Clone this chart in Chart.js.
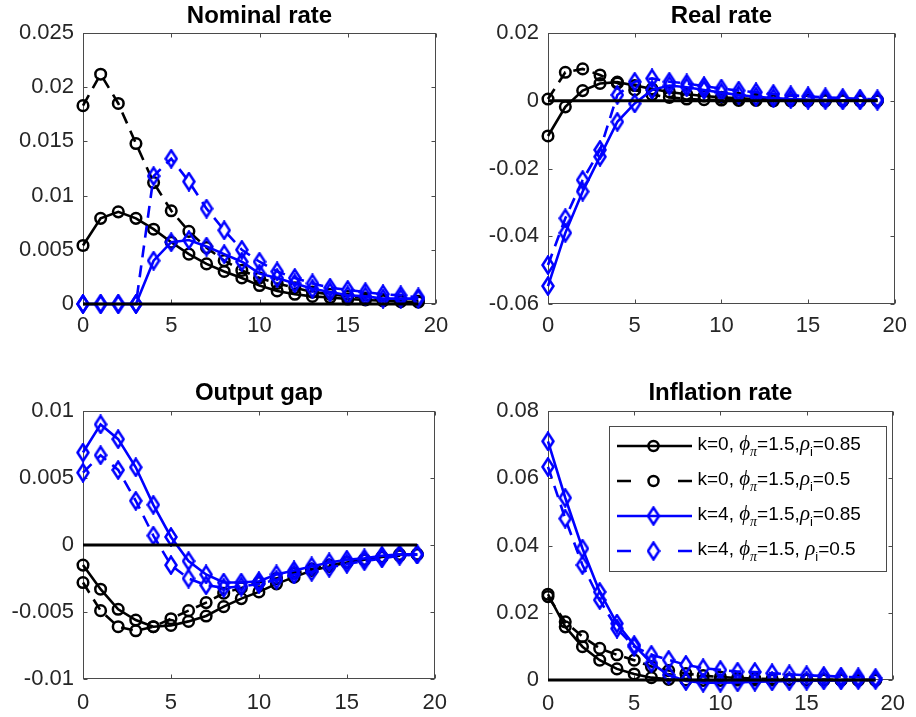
<!DOCTYPE html>
<html>
<head>
<meta charset="utf-8">
<script src="https://cdn.jsdelivr.net/npm/chart.js@4.4.0/dist/chart.umd.min.js"></script>
<style>
  html, body { margin: 0; padding: 0; background: #ffffff; }
  body { width: 916px; height: 717px; position: relative; overflow: hidden; }
  canvas { position: absolute; display: block; }
</style>
</head>
<body>
<canvas id="c1" width="458" height="350" style="left:0px;top:0px;width:458px;height:350px"></canvas>
<canvas id="c2" width="458" height="350" style="left:458px;top:0px;width:458px;height:350px"></canvas>
<canvas id="c3" width="458" height="347" style="left:0px;top:370px;width:458px;height:347px"></canvas>
<canvas id="c4" width="458" height="347" style="left:458px;top:370px;width:458px;height:347px"></canvas>
<script>
// ---------- DATA ----------
const periods = [0,1,2,3,4,5,6,7,8,9,10,11,12,13,14,15,16,17,18,19];
const xTicks = [0, 5, 10, 15, 20];
const xTickLabels = ['0', '5', '10', '15', '20'];

const seriesLabels = [
  'k=0, ϕ_π=1.5,ρ_i=0.85',
  'k=0, ϕ_π=1.5,ρ_i=0.5',
  'k=4, ϕ_π=1.5,ρ_i=0.85',
  'k=4, ϕ_π=1.5, ρ_i=0.5'
];

// Nominal rate
const nominal_k0_rho085 = [0.0054, 0.0079, 0.0085, 0.0079, 0.0069, 0.0057, 0.0046, 0.0037, 0.0030, 0.0024, 0.0017, 0.0012, 0.0009, 0.0007, 0.0006, 0.00046, 0.00037, 0.0003, 0.00022, 0.00018];
const nominal_k0_rho05  = [0.0183, 0.0212, 0.0185, 0.0148, 0.0112, 0.0086, 0.0067, 0.0052, 0.0040, 0.0031, 0.0024, 0.0019, 0.0015, 0.0011, 0.0009, 0.0007, 0.00055, 0.00042, 0.00033, 0.00026];
const nominal_k4_rho085 = [0, 0, 0, 0, 0.0040, 0.0057, 0.0059, 0.0053, 0.0046, 0.0039, 0.0028, 0.0024, 0.0019, 0.0014, 0.0011, 0.0008, 0.0007, 0.0005, 0.0005, 0.0005];
const nominal_k4_rho05  = [0, 0, 0, 0, 0.0118, 0.0134, 0.0113, 0.0088, 0.0068, 0.0050, 0.0039, 0.0030, 0.0024, 0.0019, 0.0015, 0.0013, 0.0011, 0.0009, 0.0008, 0.0006];
const nominalTicks = [0, 0.005, 0.01, 0.015, 0.02, 0.025];
const nominalTickLabels = ['0', '0.005', '0.01', '0.015', '0.02', '0.025'];

// Real rate
const real_k0_rho085 = [-0.0104, -0.0018, 0.0030, 0.0051, 0.0055, 0.0045, 0.0035, 0.0026, 0.0019, 0.0014, 0.0010, 0.0007, 0.0005, 0.0004, 0.0003, 0.0002, 0.0002, 0.0001, 0.0001, 0.0001];
const real_k0_rho05  = [0.0005, 0.0084, 0.0094, 0.0076, 0.0052, 0.0032, 0.0018, 0.0010, 0.0005, 0.0003, 0.0002, 0.0001, 0.0001, 0, 0, 0, 0, 0, 0, 0];
const real_k4_rho085 = [-0.0547, -0.0390, -0.0268, -0.0165, -0.0062, -0.0008, 0.0032, 0.0045, 0.0040, 0.0032, 0.0024, 0.0017, 0.0012, 0.0008, 0.0005, 0.0003, 0.0002, 0.0001, 0.0001, 0.0000];
const real_k4_rho05  = [-0.0485, -0.0347, -0.0234, -0.0145, 0.0017, 0.0056, 0.0066, 0.0056, 0.0051, 0.0043, 0.0036, 0.0030, 0.0025, 0.0020, 0.0016, 0.0013, 0.0010, 0.0008, 0.0006, 0.0004];
const realTicks = [-0.06, -0.04, -0.02, 0, 0.02];
const realTickLabels = ['-0.06', '-0.04', '-0.02', '0', '0.02'];

// Output gap
const output_k0_rho085 = [-0.0015, -0.0033, -0.0048, -0.0056, -0.0061, -0.0060, -0.0057, -0.0053, -0.0046, -0.0040, -0.0035, -0.0029, -0.0024, -0.0019, -0.0016, -0.0013, -0.0011, -0.0009, -0.0007, -0.0007];
const output_k0_rho05  = [-0.0028, -0.0049, -0.0061, -0.0064, -0.0061, -0.0055, -0.0049, -0.0043, -0.0036, -0.0032, -0.0028, -0.0025, -0.0021, -0.0018, -0.0015, -0.0013, -0.0011, -0.0009, -0.0008, -0.0007];
const output_k4_rho085 = [0.0069, 0.0090, 0.0079, 0.0058, 0.0030, 0.0006, -0.0012, -0.0022, -0.0028, -0.0028, -0.0027, -0.0022, -0.0019, -0.0016, -0.0013, -0.0011, -0.0010, -0.0008, -0.0007, -0.0007];
const output_k4_rho05  = [0.0054, 0.0067, 0.0056, 0.0033, 0.0007, -0.0015, -0.0025, -0.0030, -0.0032, -0.0031, -0.0029, -0.0026, -0.0022, -0.0020, -0.0017, -0.0014, -0.0012, -0.0010, -0.0008, -0.0007];
const outputTicks = [-0.01, -0.005, 0, 0.005, 0.01];
const outputTickLabels = ['-0.01', '-0.005', '0', '0.005', '0.01'];

// Inflation rate
const inflation_k0_rho085 = [0.0255, 0.0158, 0.0099, 0.0059, 0.0033, 0.0018, 0.0007, 0.0002, 0.0000, -0.0001, -0.0001, 0, 0, 0, 0, 0, 0, 0, 0, 0];
const inflation_k0_rho05  = [0.0248, 0.0173, 0.0129, 0.0094, 0.0075, 0.0059, 0.0040, 0.0028, 0.0019, 0.0013, 0.0009, 0.0006, 0.0004, 0.0003, 0.0002, 0.0001, 0.0001, 0.0000, 0.0000, 0.0000];
const inflation_k4_rho085 = [0.0710, 0.0542, 0.0391, 0.0262, 0.0168, 0.0104, 0.0050, 0.0015, -0.0003, -0.0008, -0.0008, -0.0007, -0.0005, -0.0004, -0.0003, -0.0002, -0.0001, -0.0001, 0.0000, 0.0000];
const inflation_k4_rho05  = [0.0634, 0.0480, 0.0342, 0.0238, 0.0153, 0.0099, 0.0075, 0.0060, 0.0045, 0.0035, 0.0030, 0.0025, 0.0024, 0.0020, 0.0017, 0.0014, 0.0012, 0.0010, 0.0008, 0.0006];
const inflationTicks = [0, 0.02, 0.04, 0.06, 0.08];
const inflationTickLabels = ['0', '0.02', '0.04', '0.06', '0.08'];

// ---------- STYLE ----------
const FONT = '"Liberation Sans", Arial, Helvetica, sans-serif';
const SERIF = '"Liberation Serif", "Times New Roman", serif';
const TEXT = '#262626';
const AXIS = '#4a4a4a';
const BLACK = '#000000';
const BLUE = '#0000ff';

function makeDiamond(color) {
  const c = document.createElement('canvas');
  c.width = 14; c.height = 20;
  const g = c.getContext('2d');
  g.strokeStyle = color; g.lineWidth = 2.6; g.lineJoin = 'miter';
  g.beginPath();
  g.moveTo(7, 1.6); g.lineTo(12.5, 10); g.lineTo(7, 18.4); g.lineTo(1.5, 10); g.closePath();
  g.stroke();
  return c;
}
const diamondBlue = makeDiamond(BLUE);

const seriesStyles = [
  { color: BLACK, dash: [],      marker: 'circle' },
  { color: BLACK, dash: [12, 8], marker: 'circle' },
  { color: BLUE,  dash: [],      marker: diamondBlue },
  { color: BLUE,  dash: [12, 8], marker: diamondBlue }
];

// ---------- PLUGINS ----------
const matlabFrame = {
  id: 'matlabFrame',
  beforeDatasetsDraw(chart) {
    const { ctx, chartArea: a, scales: { x, y } } = chart;
    ctx.save();
    ctx.strokeStyle = AXIS; ctx.lineWidth = 1;
    const L = Math.round(a.left) + 0.5, R = Math.round(a.right) - 0.5;
    const T = Math.round(a.top) + 0.5, B = Math.round(a.bottom) - 0.5;
    ctx.strokeRect(L, T, R - L, B - T);
    const tl = 4;
    ctx.beginPath();
    x.ticks.forEach(t => {
      const px = Math.round(x.getPixelForValue(t.value)) + 0.5;
      ctx.moveTo(px, B); ctx.lineTo(px, B - tl);
      ctx.moveTo(px, T); ctx.lineTo(px, T + tl);
    });
    y.ticks.forEach(t => {
      const py = Math.round(y.getPixelForValue(t.value)) + 0.5;
      ctx.moveTo(L, py); ctx.lineTo(L + tl, py);
      ctx.moveTo(R, py); ctx.lineTo(R - tl, py);
    });
    ctx.stroke();
    ctx.restore();
  }
};

const N = '19px ' + FONT;
const NS = '13px ' + FONT;
const G = 'italic 21px ' + SERIF;
const GS = 'italic 14px ' + SERIF;
const legendParts = [
  [['k=0, ', N, 0], ['ϕ', G, 0], ['π', GS, 6], ['=1.5,', N, 0], ['ρ', G, 0], ['i', NS, 6], ['=0.85', N, 0]],
  [['k=0, ', N, 0], ['ϕ', G, 0], ['π', GS, 6], ['=1.5,', N, 0], ['ρ', G, 0], ['i', NS, 6], ['=0.5', N, 0]],
  [['k=4, ', N, 0], ['ϕ', G, 0], ['π', GS, 6], ['=1.5,', N, 0], ['ρ', G, 0], ['i', NS, 6], ['=0.85', N, 0]],
  [['k=4, ', N, 0], ['ϕ', G, 0], ['π', GS, 6], ['=1.5, ', N, 0], ['ρ', G, 0], ['i', NS, 6], ['=0.5', N, 0]]
];

const matlabLegend = {
  id: 'matlabLegend',
  afterDraw(chart) {
    const ctx = chart.ctx;
    ctx.save();
    const bx = 151.5, by = 56.5, bw = 277, bh = 145;
    ctx.fillStyle = '#ffffff';
    ctx.fillRect(bx, by, bw, bh);
    ctx.strokeStyle = AXIS; ctx.lineWidth = 1;
    ctx.strokeRect(bx, by, bw, bh);
    const rows = [76, 111, 146, 181];
    chart.data.datasets.slice(0, 4).forEach((ds, i) => {
      const yy = rows[i];
      ctx.strokeStyle = ds.borderColor;
      ctx.lineWidth = 2.6;
      ctx.setLineDash(ds.borderDash.length ? [14, 47] : []);
      ctx.beginPath(); ctx.moveTo(159, yy); ctx.lineTo(234, yy); ctx.stroke();
      ctx.setLineDash([]);
      const mx = 195.5;
      if (ds.pointStyle === 'circle') {
        ctx.lineWidth = 2.5;
        ctx.beginPath(); ctx.arc(mx, yy, 5, 0, Math.PI * 2); ctx.stroke();
      } else {
        ctx.drawImage(ds.pointStyle, mx - ds.pointStyle.width / 2, yy - ds.pointStyle.height / 2);
      }
      let tx = 239.5;
      ctx.fillStyle = BLACK;
      ctx.textBaseline = 'alphabetic';
      ctx.textAlign = 'left';
      legendParts[i].forEach(([t, f, dy]) => {
        ctx.font = f;
        ctx.fillText(t, tx, yy + 3.5 + dy);
        tx += ctx.measureText(t).width;
      });
    });
    ctx.restore();
  }
};

// ---------- BUILD ----------
function buildChart(id, title, series, ticks, tickLabels, geo, withLegend) {
  const datasets = series.map((arr, i) => {
    const st = seriesStyles[i];
    return {
      label: seriesLabels[i],
      data: periods.map((p, j) => ({ x: p, y: arr[j] })),
      borderColor: st.color,
      borderWidth: 2.6,
      borderDash: st.dash,
      pointStyle: st.marker,
      pointRadius: 5.3,
      pointBorderWidth: 2.5,
      pointBorderColor: st.color,
      pointBackgroundColor: 'rgba(0,0,0,0)',
      fill: false,
      tension: 0,
      clip: false,
      order: 4 - i
    };
  });
  datasets.push({
    label: 'zero',
    data: [{ x: periods[0], y: 0 }, { x: periods[periods.length - 1], y: 0 }],
    borderColor: BLACK,
    borderWidth: 2.8,
    pointRadius: 0,
    fill: false,
    clip: false,
    order: 0
  });
  return new Chart(document.getElementById(id), {
    type: 'line',
    data: { datasets },
    options: {
      responsive: false,
      animation: false,
      events: [],
      layout: { padding: { left: 0, right: geo.padRight, top: 0, bottom: 0 } },
      plugins: {
        legend: { display: false },
        tooltip: { enabled: false },
        title: {
          display: true,
          text: title,
          fullSize: false,
          color: BLACK,
          font: { family: FONT, size: 24, weight: 'bold', lineHeight: 1.2 },
          padding: { top: geo.titleTop, bottom: geo.titleBottom }
        }
      },
      scales: {
        x: {
          type: 'linear',
          min: 0, max: 20,
          afterBuildTicks: s => { s.ticks = xTicks.map(v => ({ value: v })); },
          afterFit: s => { s.height = geo.xHeight; },
          grid: { display: false, drawTicks: false },
          border: { display: false },
          ticks: {
            autoSkip: false, maxRotation: 0, minRotation: 0,
            padding: geo.xPad, color: TEXT,
            font: { family: FONT, size: 22 },
            callback: (v, i) => xTickLabels[i]
          }
        },
        y: {
          type: 'linear',
          min: ticks[0], max: ticks[ticks.length - 1],
          afterBuildTicks: s => { s.ticks = ticks.map(v => ({ value: v })); },
          afterFit: s => { s.width = geo.yWidth; },
          grid: { display: false, drawTicks: false },
          border: { display: false },
          ticks: {
            autoSkip: false, padding: 9, color: TEXT,
            font: { family: FONT, size: 22 },
            callback: (v, i) => tickLabels[i]
          }
        }
      }
    },
    plugins: withLegend ? [matlabFrame, matlabLegend] : [matlabFrame]
  });
}

const geoTL = { yWidth: 83, padRight: 22, xHeight: 46, xPad: 9, titleTop: 2, titleBottom: 2.2 };
const geoTR = { yWidth: 90, padRight: 15, xHeight: 46, xPad: 9, titleTop: 2, titleBottom: 2.2 };
const geoBL = { yWidth: 83, padRight: 22, xHeight: 38, xPad: 11, titleTop: 9, titleBottom: 3.2 };
const geoBR = { yWidth: 90, padRight: 15, xHeight: 37, xPad: 11, titleTop: 9, titleBottom: 3.2 };

buildChart('c1', 'Nominal rate',
  [nominal_k0_rho085, nominal_k0_rho05, nominal_k4_rho085, nominal_k4_rho05],
  nominalTicks, nominalTickLabels, geoTL, false);
buildChart('c2', 'Real rate',
  [real_k0_rho085, real_k0_rho05, real_k4_rho085, real_k4_rho05],
  realTicks, realTickLabels, geoTR, false);
buildChart('c3', 'Output gap',
  [output_k0_rho085, output_k0_rho05, output_k4_rho085, output_k4_rho05],
  outputTicks, outputTickLabels, geoBL, false);
buildChart('c4', 'Inflation rate',
  [inflation_k0_rho085, inflation_k0_rho05, inflation_k4_rho085, inflation_k4_rho05],
  inflationTicks, inflationTickLabels, geoBR, true);
</script>
</body>
</html>
